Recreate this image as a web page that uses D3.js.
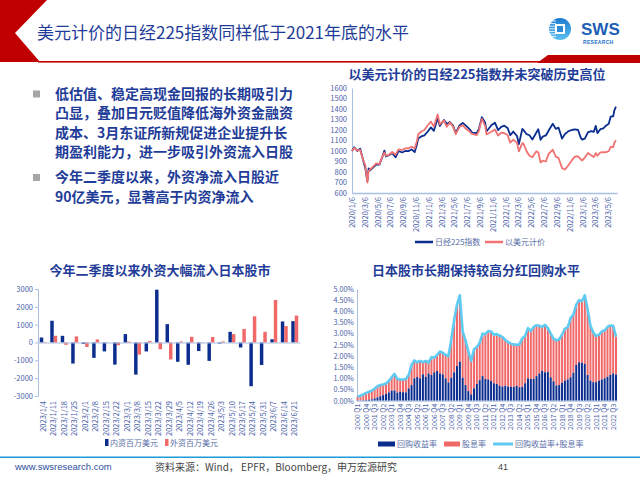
<!DOCTYPE html>
<html><head><meta charset="utf-8">
<script src="https://cdn.jsdelivr.net/npm/d3@7"></script>
<style>
body{margin:0;background:#fff;}
svg{display:block;}
text{font-family:"Noto Sans CJK SC","Liberation Sans",sans-serif;}
.num{font-family:"Liberation Sans",Arial,sans-serif;}
</style></head><body>
<svg id="c" width="640" height="480"></svg>
<script>
// ---------- Data ----------
const pageTitle = "美元计价的日经225指数同样低于2021年底的水平";
const bulletLines = [
  ["低估值、稳定高现金回报的长期吸引力","凸显，叠加日元贬值降低海外资金融资","成本、3月东证所新规促进企业提升长","期盈利能力，进一步吸引外资流入日股"],
  ["今年二季度以来，外资净流入日股近","90亿美元，显著高于内资净流入"]
];

// Chart 1: Nikkei 225 (indexed) in JPY and USD
const nkDates = ["2020-01-06","2020-01-17","2020-01-31","2020-02-14","2020-02-28","2020-03-09","2020-03-19","2020-03-25","2020-03-31","2020-04-15","2020-04-30","2020-05-15","2020-05-29","2020-06-08","2020-06-15","2020-06-30","2020-07-15","2020-07-31","2020-08-14","2020-08-31","2020-09-15","2020-09-30","2020-10-15","2020-10-30","2020-11-09","2020-11-16","2020-11-30","2020-12-15","2020-12-30","2021-01-15","2021-01-29","2021-02-16","2021-02-26","2021-03-18","2021-03-31","2021-04-15","2021-04-30","2021-05-13","2021-05-31","2021-06-15","2021-06-30","2021-07-15","2021-07-30","2021-08-20","2021-08-31","2021-09-14","2021-09-30","2021-10-06","2021-10-29","2021-11-15","2021-11-30","2021-12-15","2021-12-30","2022-01-14","2022-01-27","2022-02-10","2022-02-28","2022-03-09","2022-03-25","2022-03-31","2022-04-15","2022-04-28","2022-05-12","2022-05-31","2022-06-09","2022-06-20","2022-06-30","2022-07-15","2022-07-29","2022-08-17","2022-08-31","2022-09-13","2022-09-30","2022-10-14","2022-10-31","2022-11-15","2022-11-30","2022-12-15","2022-12-28","2023-01-04","2023-01-16","2023-01-31","2023-02-15","2023-02-28","2023-03-09","2023-03-17","2023-03-31","2023-04-14","2023-04-28","2023-05-10","2023-05-19","2023-05-31","2023-06-05","2023-06-13"];
const nkJPY = [1000,1036,1000,1021,911,838,713,835,815,843,870,870,943,1004,948,960,979,940,1000,986,1000,999,1015,990,1060,1120,1139,1148,1183,1225,1192,1313,1239,1295,1257,1275,1242,1172,1244,1268,1241,1213,1176,1170,1210,1322,1269,1186,1245,1270,1199,1230,1241,1220,1150,1185,1143,1065,1210,1199,1160,1150,1110,1176,1208,1107,1137,1148,1198,1259,1211,1223,1118,1162,1189,1200,1205,1200,1125,1108,1118,1178,1190,1183,1240,1170,1208,1216,1244,1260,1328,1331,1385,1423];
const nkUSD = [1000,1030,1003,1010,912,865,698,810,822,850,882,875,948,985,955,964,990,965,1015,1010,1025,1026,1040,1026,1090,1160,1186,1200,1243,1280,1234,1349,1255,1290,1231,1270,1232,1160,1230,1245,1211,1190,1162,1150,1192,1306,1236,1158,1184,1205,1148,1175,1169,1153,1080,1108,1077,997,1075,1068,995,955,940,997,985,890,908,900,975,1012,946,935,837,824,867,910,946,950,920,910,937,981,960,942,980,955,986,988,989,1000,1040,1036,1076,1102];
const nkYTicks = [600,700,800,900,1000,1100,1200,1300,1400,1500,1600];
const nkXLabels = ["2020/1/6","2020/3/6","2020/5/6","2020/7/6","2020/9/6","2020/11/6","2021/1/6","2021/3/6","2021/5/6","2021/7/6","2021/9/6","2021/11/6","2022/1/6","2022/3/6","2022/5/6","2022/7/6","2022/9/6","2022/11/6","2023/1/6","2023/3/6","2023/5/6"];
const nkSeriesNames = ["日经225指数","以美元计价"];

// Chart 2: weekly flows (USD mn)
const flowWeeks = ["2023/1/4","2023/1/11","2023/1/18","2023/1/25","2023/2/1","2023/2/8","2023/2/15","2023/2/22","2023/3/1","2023/3/8","2023/3/15","2023/3/22","2023/3/29","2023/4/5","2023/4/12","2023/4/19","2023/4/26","2023/5/3","2023/5/10","2023/5/17","2023/5/24","2023/5/31","2023/6/7","2023/6/14","2023/6/21"];
const domesticFlow = [280,1220,375,-1180,-80,-860,-500,-1240,470,-1800,-500,2960,1030,-1080,-1250,-480,-1030,-60,600,-280,-2450,-1260,180,1180,1200];
const foreignFlow = [-30,375,-130,340,-250,170,10,-150,50,-680,80,-380,-950,60,320,20,310,60,470,760,1470,600,2380,920,1510];
const flowYTicks = [-3000,-2000,-1000,0,1000,2000,3000];
const flowNames = ["内资百万美元","外资百万美元"];

// Chart 3: quarterly buyback yield & total (buyback + dividend) yield, %
const qStartYear = 2000, qCount = 92;
const buybackYield = [0.01,0.01,0.02,0.03,0.04,0.06,0.1,0.15,0.2,0.25,0.3,0.37,0.45,0.46,0.36,0.4,0.38,0.37,0.55,0.7,1.0,1.06,1.0,1.18,1.07,1.22,1.15,1.27,1.33,1.22,1.18,1.0,0.82,1.03,1.27,1.55,1.75,1.03,0.7,0.43,0.28,0.55,0.75,0.92,1.1,0.97,0.95,0.88,0.78,0.75,0.67,0.63,0.67,0.63,0.62,0.62,0.66,0.6,0.62,0.78,1.0,0.97,0.97,1.1,1.22,1.33,1.27,1.28,1.05,0.87,0.68,0.7,0.8,0.9,0.95,1.05,1.25,1.6,1.72,1.7,1.65,1.15,0.9,0.83,0.83,0.9,0.95,1.0,1.07,1.15,1.22,1.17];
const totalYield = [0.18,0.22,0.28,0.35,0.4,0.45,0.55,0.65,0.7,0.73,0.77,0.88,1.05,1.2,0.97,0.95,0.95,0.97,1.15,1.6,1.8,1.72,1.78,1.72,1.78,1.7,1.95,1.92,2.05,2.2,2.15,2.05,2.0,2.75,3.6,4.3,4.72,3.1,2.7,2.2,1.78,2.3,2.4,2.6,3.0,2.98,3.12,3.1,2.95,2.98,2.92,2.85,2.72,2.62,2.55,2.52,2.5,2.52,2.8,2.9,3.25,3.12,3.3,3.38,3.35,3.3,3.4,3.25,3.0,2.78,2.7,2.75,2.95,3.22,3.28,3.7,3.85,4.3,4.5,4.45,4.72,4.1,3.35,3.05,2.9,2.95,3.1,3.15,3.3,3.37,3.35,2.87];
const yieldYTicks = [0,0.5,1,1.5,2,2.5,3,3.5,4,4.5,5];
const yieldNames = ["回购收益率","股息率","回购收益率+股息率"];

const sourceText = "资料来源：Wind， EPFR，Bloomberg，申万宏源研究";
const siteText = "www.swsresearch.com";
const pageNo = "41";

// ---------- Styles ----------
const C = {
  red:"#c00000", title:"#1f3d98", navy:"#0b2d8e", salmon:"#f06868",
  tick:"#4a62a8", axis:"#a9bfe2", legend:"#5a6ea8", cyan:"#5fcbf2"
};
const svg = d3.select("#c");

// ---------- Header ----------
svg.append("polygon").attr("points","0,0 47,0 15,33 40,62 0,62").attr("fill",C.red);
svg.append("rect").attr("x",38).attr("y",61).attr("width",602).attr("height",1.6).attr("fill",C.red);
svg.append("polygon").attr("points","537,63 548,55 640,55 640,63").attr("fill",C.red);
svg.append("text").attr("x",37).attr("y",39).attr("font-size",17).attr("fill",C.title).text(pageTitle);

// logo
const lg = svg.append("g");
const grad = svg.append("defs").append("linearGradient").attr("id","lgG").attr("x1",0).attr("y1",0).attr("x2",0).attr("y2",1);
grad.append("stop").attr("offset","0%").attr("stop-color","#1c7ad0");
grad.append("stop").attr("offset","100%").attr("stop-color","#5cc0f0");
lg.append("circle").attr("cx",560).attr("cy",29).attr("r",11).attr("fill","url(#lgG)");
for (let k=0;k<7;k++){
  lg.append("rect").attr("x",549).attr("y",20.5+k*2.6).attr("width",7).attr("height",1).attr("fill","#fff").attr("opacity",0.85);
}
lg.append("rect").attr("x",555).attr("y",24).attr("width",10).attr("height",10).attr("fill","#fff");
lg.append("rect").attr("x",557).attr("y",26).attr("width",6).attr("height",6).attr("fill","#2b8ad6");
lg.append("text").attr("class","num").attr("x",581).attr("y",35).attr("font-size",17).attr("font-weight","bold").attr("fill","#1d5fb6").text("SWS");
lg.append("text").attr("class","num").attr("x",583).attr("y",44).attr("font-size",5).attr("font-weight","bold").attr("fill","#1d6fc6").attr("letter-spacing",0.3).text("RESEARCH");

// ---------- Bullets ----------
const bulletBase = [[98.5,118,137.5,157],[182,201.5]];
bulletLines.forEach((lines,bi)=>{
  svg.append("rect").attr("x",33).attr("y",bulletBase[bi][0]-8).attr("width",7).attr("height",7).attr("fill","#a6a6a6");
  lines.forEach((t,li)=>{
    svg.append("text").attr("x",55).attr("y",bulletBase[bi][li]).attr("font-size",14).attr("font-weight","bold").attr("fill",C.title).text(t);
  });
});

function styleAxis(g, size){
  g.select(".domain").attr("stroke",C.axis);
  g.selectAll(".tick line").attr("stroke",C.axis);
  g.selectAll(".tick text").attr("fill",C.tick).attr("font-size",size).attr("font-family","Liberation Sans, Arial, sans-serif");
}
const plain = d => String(d);

// ---------- Chart 1 ----------
{
  const parseD = d3.timeParse("%Y-%m-%d");
  const parseL = d3.timeParse("%Y/%m/%d");
  const x = d3.scaleTime().domain([new Date(2020,0,6), new Date(2023,5,18)]).range([352,617]);
  const y = d3.scaleLinear().domain([600,1600]).range([193,88]);
  svg.append("text").attr("x",477).attr("y",79).attr("text-anchor","middle").attr("font-size",13).attr("font-weight","bold").attr("fill",C.title).text("以美元计价的日经225指数并未突破历史高位");
  const gy = svg.append("g").attr("transform","translate(352,0)").call(d3.axisLeft(y).tickValues(nkYTicks).tickFormat(plain).tickSize(0).tickPadding(5));
  styleAxis(gy,7.5);
  const tickDates = nkXLabels.map(parseL);
  const gx = svg.append("g").attr("transform","translate(0,193)").call(d3.axisBottom(x).tickValues(tickDates).tickFormat((d,i)=>nkXLabels[i]).tickSize(0).tickSizeOuter(0));
  styleAxis(gx,7.5);
  gx.select(".domain").attr("stroke-width",1.5);
  gx.selectAll(".tick text").attr("transform","rotate(-90)").attr("text-anchor","end").attr("x",-4).attr("y",0).attr("dy","0.35em");
  const dates = nkDates.map(parseD);
  const line = d3.line().x((d,i)=>x(dates[i])).y(d=>y(d));
  svg.append("path").attr("d",line(nkJPY)).attr("fill","none").attr("stroke",C.navy).attr("stroke-width",1.8).attr("stroke-linejoin","round");
  svg.append("path").attr("d",line(nkUSD)).attr("fill","none").attr("stroke","#f07272").attr("stroke-width",1.8).attr("stroke-linejoin","round");
  // legend
  const lgY = 242;
  svg.append("line").attr("x1",415).attr("x2",433).attr("y1",lgY).attr("y2",lgY).attr("stroke",C.navy).attr("stroke-width",2.5);
  svg.append("text").attr("x",435).attr("y",lgY+3).attr("font-size",8).attr("fill",C.legend).text(nkSeriesNames[0]);
  svg.append("line").attr("x1",485).attr("x2",503).attr("y1",lgY).attr("y2",lgY).attr("stroke","#f07272").attr("stroke-width",2.5);
  svg.append("text").attr("x",505).attr("y",lgY+3).attr("font-size",8).attr("fill",C.legend).text(nkSeriesNames[1]);
}

// ---------- Chart 2 ----------
{
  const x = d3.scaleBand().domain(flowWeeks).range([38,300]).paddingInner(0.34).paddingOuter(0.17);
  const x1 = d3.scaleBand().domain([0,1]).range([0,x.bandwidth()]);
  const y = d3.scaleLinear().domain([-3000,3000]).range([396,289]);
  svg.append("text").attr("x",160).attr("y",275).attr("text-anchor","middle").attr("font-size",13).attr("font-weight","bold").attr("fill",C.title).text("今年二季度以来外资大幅流入日本股市");
  const gy = svg.append("g").attr("transform","translate(38,0)").call(d3.axisLeft(y).tickValues(flowYTicks).tickFormat(plain).tickSize(3).tickPadding(2).tickSizeOuter(0));
  styleAxis(gy,7.5);
  svg.append("g").selectAll("rect.d").data(domesticFlow).join("rect")
    .attr("x",(d,i)=>x(flowWeeks[i])+x1(0)).attr("width",x1.bandwidth())
    .attr("y",d=>y(Math.max(0,d))).attr("height",d=>Math.abs(y(d)-y(0))).attr("fill",C.navy);
  svg.append("g").selectAll("rect.f").data(foreignFlow).join("rect")
    .attr("x",(d,i)=>x(flowWeeks[i])+x1(1)).attr("width",x1.bandwidth())
    .attr("y",d=>y(Math.max(0,d))).attr("height",d=>Math.abs(y(d)-y(0))).attr("fill",C.salmon);
  const gx = svg.append("g").attr("transform",`translate(0,${y(0)})`).call(d3.axisBottom(x).tickSize(0).tickSizeOuter(0));
  styleAxis(gx,7.5);
  gx.selectAll(".tick text").attr("transform",`translate(0,${y(-3000)-y(0)+3}) rotate(-90)`).attr("text-anchor","end").attr("x",-2).attr("y",0).attr("dy","0.35em");
  // legend
  const ly = 443;
  svg.append("rect").attr("x",105).attr("y",ly-4).attr("width",3.5).attr("height",7).attr("fill",C.navy);
  svg.append("text").attr("x",110).attr("y",ly+3).attr("font-size",8).attr("fill",C.legend).text(flowNames[0]);
  svg.append("rect").attr("x",165).attr("y",ly-4).attr("width",3.5).attr("height",7).attr("fill",C.salmon);
  svg.append("text").attr("x",170).attr("y",ly+3).attr("font-size",8).attr("fill",C.legend).text(flowNames[1]);
}

// ---------- Chart 3 ----------
{
  const quarters = d3.range(qCount).map(i=>`${qStartYear+Math.floor(i/4)} Q${i%4+1}`);
  const x = d3.scaleBand().domain(quarters).range([356.6,617]).paddingInner(0.3).paddingOuter(0);
  const y = d3.scaleLinear().domain([0,5]).range([400.7,289]);
  svg.append("text").attr("x",476).attr("y",275).attr("text-anchor","middle").attr("font-size",13).attr("font-weight","bold").attr("fill",C.title).text("日本股市长期保持较高分红回购水平");
  const gy = svg.append("g").attr("transform","translate(357,0)").call(d3.axisLeft(y).tickValues(yieldYTicks).tickFormat(d=>d.toFixed(2)+"%").tickSize(0).tickPadding(3).tickSizeOuter(0));
  styleAxis(gy,7.2);
  svg.append("g").selectAll("rect").data(totalYield).join("rect")
    .attr("x",(d,i)=>x(quarters[i])).attr("width",x.bandwidth())
    .attr("y",d=>y(d)).attr("height",(d,i)=>y(buybackYield[i])-y(d)).attr("fill",C.salmon);
  svg.append("g").selectAll("rect").data(buybackYield).join("rect")
    .attr("x",(d,i)=>x(quarters[i])).attr("width",x.bandwidth())
    .attr("y",d=>y(d)).attr("height",d=>y(0)-y(d)).attr("fill",C.navy);
  const line = d3.line().x((d,i)=>x(quarters[i])+x.bandwidth()/2).y(d=>y(d));
  svg.append("path").attr("d",line(totalYield)).attr("fill","none").attr("stroke",C.cyan).attr("stroke-width",2.6).attr("stroke-linejoin","round");
  const gx = svg.append("g").attr("transform",`translate(0,${y(0)})`).call(d3.axisBottom(x).tickValues(quarters.filter((q,i)=>i%3===0)).tickSize(0).tickSizeOuter(0));
  styleAxis(gx,7);
  gx.selectAll(".tick text").attr("transform","rotate(-90)").attr("text-anchor","end").attr("x",-3).attr("y",0).attr("dy","0.35em");
  // legend
  const ly = 444;
  svg.append("rect").attr("x",378).attr("y",ly-2.5).attr("width",17).attr("height",5).attr("fill",C.navy);
  svg.append("text").attr("x",397).attr("y",ly+3).attr("font-size",8).attr("fill",C.legend).text(yieldNames[0]);
  svg.append("rect").attr("x",444).attr("y",ly-2.5).attr("width",16).attr("height",5).attr("fill",C.salmon);
  svg.append("text").attr("x",462).attr("y",ly+3).attr("font-size",8).attr("fill",C.legend).text(yieldNames[1]);
  svg.append("line").attr("x1",493).attr("x2",513).attr("y1",ly).attr("y2",ly).attr("stroke",C.cyan).attr("stroke-width",3);
  svg.append("text").attr("x",515).attr("y",ly+3).attr("font-size",8).attr("fill",C.legend).text(yieldNames[2]);
}

// ---------- Footer ----------
svg.append("rect").attr("x",0).attr("y",456.5).attr("width",640).attr("height",1.5).attr("fill","#1f9ad8");
svg.append("text").attr("class","num").attr("x",15).attr("y",470).attr("font-size",9.5).attr("fill","#2e4fa0").text(siteText);
svg.append("text").attr("x",155).attr("y",470.5).attr("font-size",10).attr("fill","#444").text(sourceText);
svg.append("text").attr("class","num").attr("x",498).attr("y",470).attr("font-size",9).attr("fill","#444").text(pageNo);
</script>
</body></html>
